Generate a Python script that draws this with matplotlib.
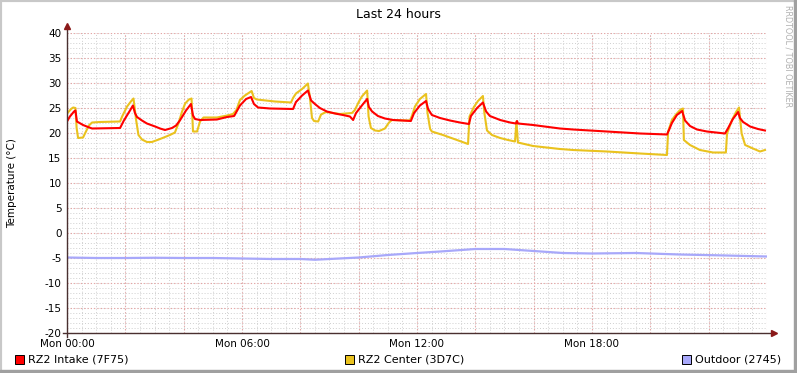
import matplotlib
matplotlib.use("Agg")
from matplotlib import pyplot as plt
from matplotlib.patches import Rectangle

plt.rcParams['axes.unicode_minus'] = False

# hours since Mon 00:00 and temperatures (deg C)
intake_h = [0.00, 0.10, 0.24, 0.29, 0.34, 0.55, 0.72, 0.86, 1.82, 1.95, 2.16, 2.26,
            2.33, 2.40, 2.57, 2.74, 3.02, 3.19, 3.36, 3.60, 3.74, 3.87, 4.08, 4.25,
            4.32, 4.39, 4.56, 5.14, 5.49, 5.73, 5.93, 6.14, 6.31, 6.41, 6.55, 6.96,
            7.75, 7.85, 8.06, 8.26, 8.37, 8.50, 8.67, 8.91, 9.19, 9.46, 9.70, 9.81,
            9.91, 10.11, 10.29, 10.35, 10.46, 10.66, 10.90, 11.18, 11.79, 11.90,
            12.10, 12.31, 12.38, 12.51, 12.79, 13.13, 13.47, 13.78, 13.85, 14.06,
            14.26, 14.37, 14.50, 14.85, 15.19, 15.39, 15.43, 15.46, 15.98, 16.90,
            17.35, 18.51, 19.65, 20.57, 20.64, 20.74, 20.91, 21.09, 21.19, 21.36,
            21.60, 21.94, 22.56, 22.66, 22.83, 23.01, 23.07, 23.18, 23.42, 23.69, 23.93]
intake_t = [22.3, 23.3, 24.3, 24.5, 22.3, 21.6, 21.2, 20.9, 21.0, 22.5, 24.5, 25.5,
            24.0, 23.2, 22.5, 21.9, 21.3, 20.9, 20.6, 21.0, 21.5, 22.5, 24.5, 25.8,
            23.5, 22.8, 22.6, 22.7, 23.2, 23.4, 25.5, 26.8, 27.2, 25.8, 25.1, 24.9,
            24.8, 26.2, 27.5, 28.5, 26.5, 25.8, 25.0, 24.3, 23.9, 23.6, 23.3, 22.6,
            24.0, 25.5, 26.8, 25.2, 24.3, 23.4, 22.9, 22.6, 22.4, 24.0,
            25.5, 26.4, 24.8, 23.6, 23.0, 22.5, 22.1, 21.8, 23.4, 25.0,
            26.1, 24.3, 23.4, 22.6, 22.1, 21.9, 22.4, 21.9, 21.6, 20.9,
            20.7, 20.3, 19.9, 19.7, 20.6, 22.0, 23.6, 24.4, 22.5, 21.4,
            20.7, 20.3, 19.9, 20.9, 22.8, 24.2, 23.0, 22.2, 21.3, 20.8, 20.5]

center_h = [0.00, 0.14, 0.21, 0.29, 0.33, 0.38, 0.55, 0.65, 0.75, 0.86, 1.13, 1.82,
            1.89, 2.06, 2.19, 2.28, 2.37, 2.45, 2.57, 2.74, 2.91, 3.19, 3.53, 3.70,
            3.82, 3.94, 4.05, 4.18, 4.27, 4.32, 4.46, 4.56, 4.68, 5.14, 5.49, 5.69,
            5.81, 5.93, 6.10, 6.33, 6.41, 6.51, 7.13, 7.68, 7.75, 7.85, 8.06, 8.26,
            8.33, 8.40, 8.47, 8.61, 8.71, 8.88, 9.36, 9.77, 9.87, 10.01, 10.11, 10.29,
            10.34, 10.42, 10.56, 10.70, 10.90, 11.04, 11.14, 11.76, 11.83, 11.93,
            12.10, 12.31, 12.36, 12.45, 12.51, 12.89, 13.13, 13.37, 13.75, 13.80,
            13.95, 14.09, 14.26, 14.31, 14.40, 14.57, 14.85, 15.12, 15.36, 15.41,
            15.46, 15.98, 16.90, 17.35, 18.51, 19.65, 20.57, 20.61, 20.74, 20.88,
            21.02, 21.12, 21.15, 21.36, 21.70, 22.15, 22.59, 22.63, 22.80, 22.94,
            23.04, 23.13, 23.25, 23.52, 23.76, 23.93]
center_t = [23.9, 24.8, 25.1, 25.0, 21.0, 19.0, 19.1, 20.3, 21.5, 22.1, 22.2, 22.3,
            23.3, 25.3, 26.3, 26.9, 22.6, 19.6, 18.7, 18.2, 18.2, 18.8, 19.6, 20.1,
            21.9, 24.2, 25.9, 26.7, 26.9, 20.3, 20.3, 22.3, 23.1, 23.1, 23.5, 23.8,
            24.6, 26.6, 27.5, 28.4, 27.0, 26.7, 26.3, 26.1, 27.0, 27.9, 28.8, 29.9,
            27.0, 23.0, 22.4, 22.3, 23.7, 24.2, 23.8, 24.0, 24.6, 26.3, 27.3, 28.5,
            23.3, 21.0, 20.5, 20.4, 20.9, 22.1, 22.6, 22.5, 23.5, 25.3,
            26.8, 27.8, 24.0, 20.8, 20.3, 19.6, 19.1, 18.6, 17.8, 23.3,
            25.2, 26.4, 27.4, 24.0, 20.5, 19.6, 19.0, 18.6, 18.3, 22.3,
            18.1, 17.4, 16.8, 16.6, 16.3, 15.9, 15.6, 20.3, 22.6, 23.7,
            24.6, 24.9, 18.6, 17.6, 16.6, 16.1, 16.1, 19.9, 22.6, 24.2,
            25.1, 19.9, 17.6, 16.9, 16.3, 16.6]

outdoor_h = [0, 1, 2, 3, 4, 5, 6, 7, 8, 8.5, 9, 10, 11, 12, 12.8, 14, 15, 16, 17,
             18, 19.5, 21, 22.6, 24]
outdoor_t = [-4.9, -5.0, -5.0, -4.95, -5.0, -5.0, -5.1, -5.2, -5.2, -5.35, -5.2,
             -4.9, -4.4, -4.0, -3.7, -3.2, -3.2, -3.6, -4.0, -4.1, -4.0, -4.3, -4.5, -4.7]

series_names = ["RZ2 Intake (7F75)", "RZ2 Center (3D7C)", "Outdoor (2745)"]
series_colors = ["#FF0000", "#EAC21E", "#A8A8FA"]
hour_ticks = [0, 6, 12, 18]
hour_labels = ["Mon 00:00", "Mon 06:00", "Mon 12:00", "Mon 18:00"]

fig = plt.figure(figsize=(7.97, 3.73), dpi=100)
ax = fig.add_axes([67 / 797, 40 / 373, 700 / 797, 300 / 373])

# gridlines, rrdtool style
for h in range(0, 49):
    ax.axvline(h / 2, color="#CFCFCF", lw=0.7, ls=(0, (1, 2)), zorder=0)
for t in range(-20, 41):
    ax.axhline(t, color="#CFCFCF", lw=0.7, ls=(0, (1, 2)), zorder=0)
for h in range(0, 25, 2):
    ax.axvline(h, color="#E8A0A0", lw=0.8, ls=(0, (1, 2)), zorder=1)
for t in range(-20, 41, 5):
    ax.axhline(t, color="#E8A0A0", lw=0.8, ls=(0, (1, 2)), zorder=1)

ax.plot(outdoor_h, outdoor_t, color=series_colors[2], lw=1.6, zorder=3)
ax.plot(center_h, center_t, color=series_colors[1], lw=1.5, zorder=4)
ax.plot(intake_h, intake_t, color=series_colors[0], lw=1.5, zorder=5)

ax.set_xlim(0, 24)
ax.set_ylim(-20, 40)
for s in ax.spines.values():
    s.set_visible(False)
ax.set_xticks(hour_ticks)
ax.set_xticklabels(hour_labels)
ax.set_yticks(range(-20, 41, 5))
ax.tick_params(length=0, labelsize=7.5, pad=4)

# axes with arrows
axis_col = "#4A3030"
ax.plot([-0.006, 1.008], [0, 0], color=axis_col, lw=1, transform=ax.transAxes, clip_on=False, zorder=6)
ax.plot([0, 0], [-0.012, 1.02], color=axis_col, lw=1, transform=ax.transAxes, clip_on=False, zorder=6)
ax.plot([1.01], [0], marker=">", ms=4, color="#8B1A1A", transform=ax.transAxes, clip_on=False, zorder=7)
ax.plot([0], [1.022], marker="^", ms=4, color="#8B1A1A", transform=ax.transAxes, clip_on=False, zorder=7)

fig.text(0.5, 1 - 14 / 373, "Last 24 hours", ha="center", va="center", fontsize=9)
fig.text(12 / 797, 1 - 183 / 373, "Temperature (°C)", rotation=90, ha="center", va="center", fontsize=7.5)
fig.text(788 / 797, 1 - 5 / 373, "RRDTOOL / TOBI OETIKER", rotation=270, ha="center", va="top",
         fontsize=5.8, color="#B0B0B0")

# legend
legend_x = [15, 345, 682]
for x0, name, col in zip(legend_x, series_names, series_colors):
    fig.patches.append(Rectangle((x0 / 797, 1 - 364 / 373), 9 / 797, 9 / 373, transform=fig.transFigure,
                                 facecolor=col, edgecolor="black", lw=0.7))
    fig.text((x0 + 13) / 797, 1 - 359.5 / 373, name, ha="left", va="center", fontsize=8)

# frame
fig.patches.append(Rectangle((0, 0), 1, 1, transform=fig.transFigure, fill=False,
                             edgecolor="#C8C8C8", lw=3))
fig.patches.append(Rectangle((0, 0), 1, 3 / 373, transform=fig.transFigure, color="#A0A0A0"))
fig.patches.append(Rectangle((1 - 3 / 797, 0), 3 / 797, 1, transform=fig.transFigure, color="#A0A0A0"))

fig.savefig("out.png", dpi=100)
